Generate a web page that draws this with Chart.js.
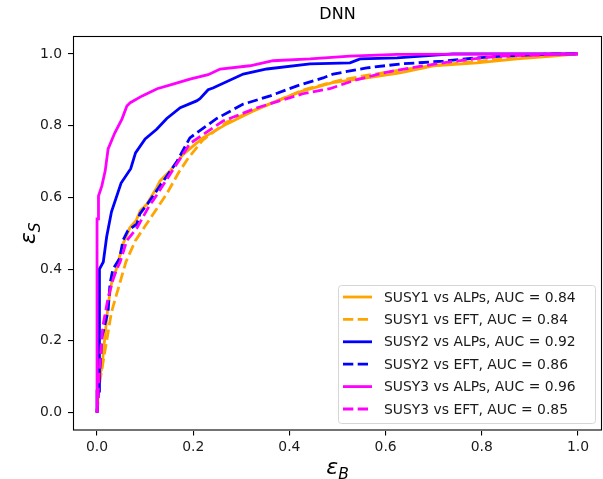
<!DOCTYPE html>
<html>
<head>
<meta charset="utf-8">
<script src="https://cdn.jsdelivr.net/npm/chart.js@4"></script>
<style>
  body { margin: 0; background: #fff; }
  #wrap { width: 603px; height: 479px; }
</style>
</head>
<body>
<div id="wrap"><canvas id="roc" width="603" height="479"></canvas></div>
<script>
// ROC curves (eps_B, eps_S)
const susy1AlpsX = [0, 0.005, 0.01, 0.017, 0.023, 0.03, 0.04, 0.054, 0.068, 0.081, 0.09, 0.103, 0.124, 0.131, 0.152, 0.179, 0.22, 0.27, 0.324, 0.374, 0.428, 0.49, 0.561, 0.63, 0.699, 0.79, 0.873, 0.948, 1.0];
const susy1AlpsY = [0, 0.10, 0.125, 0.22, 0.30, 0.36, 0.40, 0.47, 0.515, 0.535, 0.563, 0.58, 0.627, 0.646, 0.674, 0.72, 0.766, 0.805, 0.84, 0.869, 0.897, 0.92, 0.933, 0.947, 0.967, 0.975, 0.986, 0.994, 1.0];

const susy1EftX = [0, 0.005, 0.01, 0.02, 0.03, 0.045, 0.06, 0.08, 0.1, 0.12, 0.145, 0.17, 0.19, 0.22, 0.27, 0.33, 0.38, 0.43, 0.5, 0.56, 0.63, 0.7, 0.78, 0.87, 0.93, 1.0];
const susy1EftY = [0, 0.08, 0.12, 0.2, 0.28, 0.35, 0.42, 0.48, 0.52, 0.56, 0.61, 0.67, 0.71, 0.76, 0.81, 0.845, 0.872, 0.9, 0.925, 0.94, 0.955, 0.968, 0.978, 0.99, 0.997, 1.0];

const susy2AlpsX = [0, 0, 0.005, 0.005, 0.013, 0.02, 0.03, 0.05, 0.07, 0.08, 0.1, 0.124, 0.145, 0.173, 0.207, 0.214, 0.231, 0.241, 0.304, 0.353, 0.443, 0.526, 0.547, 0.624, 0.74, 1.0];
const susy2AlpsY = [0, 0.06, 0.06, 0.40, 0.42, 0.49, 0.56, 0.64, 0.68, 0.724, 0.763, 0.79, 0.82, 0.85, 0.869, 0.875, 0.90, 0.905, 0.944, 0.958, 0.972, 0.975, 0.986, 0.989, 1.0, 1.0];

const susy2EftX = [0, 0.005, 0.01, 0.023, 0.027, 0.033, 0.047, 0.054, 0.064, 0.083, 0.089, 0.105, 0.166, 0.193, 0.249, 0.304, 0.36, 0.416, 0.47, 0.491, 0.561, 0.63, 0.72, 0.79, 0.845, 0.95, 1.0];
const susy2EftY = [0, 0.10, 0.21, 0.284, 0.36, 0.40, 0.43, 0.48, 0.507, 0.526, 0.554, 0.582, 0.70, 0.766, 0.82, 0.86, 0.883, 0.911, 0.933, 0.944, 0.961, 0.972, 0.98, 0.989, 0.994, 1.0, 1.0];

const susy3AlpsX = [0, 0, 0.003, 0.003, 0.01, 0.017, 0.023, 0.037, 0.052, 0.062, 0.069, 0.094, 0.125, 0.158, 0.193, 0.231, 0.256, 0.318, 0.366, 0.443, 0.526, 0.624, 1.0];
const susy3AlpsY = [0, 0.54, 0.54, 0.604, 0.632, 0.674, 0.735, 0.78, 0.819, 0.855, 0.864, 0.883, 0.903, 0.916, 0.93, 0.942, 0.958, 0.967, 0.981, 0.986, 0.994, 0.999, 1.0];

const susy3EftX = [0, 0.005, 0.012, 0.023, 0.033, 0.041, 0.048, 0.062, 0.083, 0.11, 0.116, 0.193, 0.262, 0.333, 0.428, 0.484, 0.532, 0.595, 0.651, 0.719, 0.782, 0.838, 1.0];
const susy3EftY = [0, 0.12, 0.24, 0.32, 0.37, 0.40, 0.42, 0.48, 0.515, 0.58, 0.59, 0.75, 0.813, 0.85, 0.889, 0.903, 0.925, 0.947, 0.961, 0.975, 0.986, 0.994, 1.0];

const labels = [
  'SUSY1 vs ALPs, AUC = 0.84',
  'SUSY1 vs EFT, AUC = 0.84',
  'SUSY2 vs ALPs, AUC = 0.92',
  'SUSY2 vs EFT, AUC = 0.86',
  'SUSY3 vs ALPs, AUC = 0.96',
  'SUSY3 vs EFT, AUC = 0.85'
];
const xs = [susy1AlpsX, susy1EftX, susy2AlpsX, susy2EftX, susy3AlpsX, susy3EftX];
const ys = [susy1AlpsY, susy1EftY, susy2AlpsY, susy2EftY, susy3AlpsY, susy3EftY];
const colors = ['#ffa500', '#ffa500', '#0000ff', '#0000ff', '#ff00ff', '#ff00ff'];
const dashed = [false, true, false, true, false, true];
const xTicks = [0, 0.2, 0.4, 0.6, 0.8, 1.0];
const yTicks = [0, 0.2, 0.4, 0.6, 0.8, 1.0];

const FONT = 'DejaVu Sans';
const DASH = [10.3, 4.4];
const LW = 2.8;

let datasets = []
for (let i = 0; i < labels.length; i++) {
    let pts = xs[i].map((x, j) => ({x: x, y: ys[i][j]}))
    datasets.push({
        label: labels[i],
        data: pts,
        borderColor: colors[i],
        backgroundColor: colors[i],
        borderWidth: LW,
        borderDash: dashed[i] ? DASH : [],
        pointRadius: 0,
        fill: false,
        tension: 0,
        order: labels.length - i   // last series on top, like matplotlib
    })
}

// frame, title, axis labels and legend box
const decorations = {
    id: 'decorations',
    afterDatasetsDraw(chart) {
        const ctx = chart.ctx
        const a = chart.chartArea
        ctx.save()
        ctx.strokeStyle = '#000'
        ctx.lineWidth = 1.1
        ctx.strokeRect(a.left + 0.5, a.top + 0.5, a.right - a.left - 1, a.bottom - a.top - 1)

        const cx = (a.left + a.right) / 2
        ctx.fillStyle = '#000'
        ctx.textAlign = 'center'
        ctx.textBaseline = 'alphabetic'
        ctx.font = '16px "' + FONT + '"'
        ctx.fillText('DNN', cx, a.top - 17)

        // x label eps_B
        drawEps(ctx, 'B', cx, 474)
        // y label eps_S, rotated
        ctx.translate(35, (a.top + a.bottom) / 2)
        ctx.rotate(-Math.PI / 2)
        drawEps(ctx, 'S', 0, 0)
        ctx.restore()

        drawLegend(chart)
    }
}

function drawEps(ctx, sub, x, y) {
    ctx.save()
    ctx.textAlign = 'left'
    ctx.textBaseline = 'alphabetic'
    ctx.font = 'italic 22px "' + FONT + '"'
    let w1 = ctx.measureText('\u03b5').width
    ctx.font = 'italic 15.5px "' + FONT + '"'
    let w2 = ctx.measureText(sub).width
    let x0 = x - (w1 + w2) / 2
    ctx.font = 'italic 22px "' + FONT + '"'
    ctx.fillText('\u03b5', x0, y)
    ctx.font = 'italic 15.5px "' + FONT + '"'
    ctx.fillText(sub, x0 + w1, y + 5)
    ctx.restore()
}

function drawLegend(chart) {
    const ctx = chart.ctx
    const bx = 338, by = 285, bw = 257, bh = 138
    ctx.save()
    ctx.beginPath()
    ctx.roundRect(bx + 0.5, by + 0.5, bw, bh, 3)
    ctx.fillStyle = 'rgba(255,255,255,0.8)'
    ctx.fill()
    ctx.strokeStyle = '#d6d6d6'
    ctx.lineWidth = 1
    ctx.stroke()
    ctx.font = '13.9px "' + FONT + '"'
    ctx.textBaseline = 'middle'
    ctx.textAlign = 'left'
    chart.data.datasets.forEach((ds, i) => {
        let yy = 297 + i * 22.4
        ctx.beginPath()
        ctx.setLineDash(ds.borderDash)
        ctx.strokeStyle = ds.borderColor
        ctx.lineWidth = LW
        ctx.moveTo(343, yy)
        ctx.lineTo(372, yy)
        ctx.stroke()
        ctx.setLineDash([])
        ctx.fillStyle = '#1a1a1a'
        ctx.fillText(ds.label, 384, yy + 1)
    })
    ctx.restore()
}

const tickFont = {family: FONT, size: 13.9}

new Chart(document.getElementById('roc'), {
    type: 'line',
    data: {datasets: datasets},
    options: {
        responsive: false,
        animation: false,
        events: [],
        layout: {padding: {top: 36, right: 1, left: 0, bottom: 0}},
        plugins: {legend: {display: false}, tooltip: {enabled: false}, title: {display: false}},
        scales: {
            x: {
                type: 'linear',
                min: -0.05,
                max: 1.05,
                afterFit: (s) => { s.height = 48.5 },
                afterBuildTicks: (s) => { s.ticks = xTicks.map(v => ({value: v})) },
                grid: {display: true, drawOnChartArea: false, drawTicks: true, tickLength: 5, color: '#000', lineWidth: 1.1},
                border: {display: false},
                ticks: {font: tickFont, color: '#1a1a1a', padding: 4, maxRotation: 0, callback: (v) => v.toFixed(1)}
            },
            y: {
                type: 'linear',
                min: -0.05,
                max: 1.05,
                afterFit: (s) => { s.width = 73 },
                afterBuildTicks: (s) => { s.ticks = yTicks.map(v => ({value: v})) },
                grid: {display: true, drawOnChartArea: false, drawTicks: true, tickLength: 5, color: '#000', lineWidth: 1.1},
                border: {display: false},
                ticks: {font: tickFont, color: '#1a1a1a', padding: 6, callback: (v) => v.toFixed(1)}
            }
        }
    },
    plugins: [decorations]
});
</script>
</body>
</html>
